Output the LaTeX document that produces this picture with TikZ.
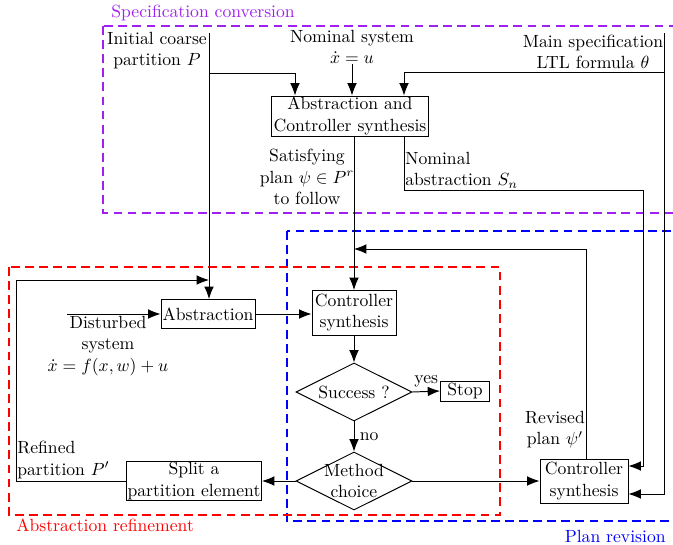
\documentclass[tikz,border=0pt]{standalone}
\usetikzlibrary{arrows.meta,shapes.geometric}
\definecolor{specpurple}{RGB}{160,32,240}
\begin{document}
\begin{tikzpicture}[x=0.567pt,y=-0.567pt,
  box/.style={draw,line width=0.55pt,align=center,inner sep=0pt},
  dia/.style={draw,line width=0.55pt,diamond,inner sep=0pt,minimum width=116*0.567pt,minimum height=58*0.567pt},
  arr/.style={line width=0.55pt,-{Latex[length=7pt,width=5.5pt]}},
  grp/.style={dash pattern=on 5pt off 3pt,line width=0.8pt},
  lbl/.style={align=center,inner sep=0pt}]
\useasboundingbox (0,0) rectangle (673,544);
\clip (0,0) rectangle (673,544);

% group frames
\draw[grp,specpurple] (103,26) rectangle (690,213);
\draw[grp,blue] (287,231) rectangle (690,521);
\draw[grp,red] (9,267) rectangle (500,515);
\node[lbl,anchor=west,text=specpurple] (gspec) at (111,13) {Specification conversion};
\node[lbl,anchor=west,text=red] (gref) at (16,525) {Abstraction refinement};
\node[lbl,anchor=east,text=blue] (gplan) at (666,536) {Plan revision};

% blocks
\node[box,minimum width=157*0.567pt,minimum height=40*0.567pt] (acs) at (350,116) {Abstraction and\\Controller synthesis};
\node[box,minimum width=94*0.567pt,minimum height=29*0.567pt] (abs) at (208,314) {Abstraction};
\node[box,minimum width=84*0.567pt,minimum height=45*0.567pt] (cs1) at (354,313) {Controller\\synthesis};
\node[dia,label={[lbl]center:Success ?}] (succ) at (354,392) {};
\node[box,minimum width=49*0.567pt,minimum height=20*0.567pt] (stop) at (465,391) {Stop};
\node[dia,label={[lbl]center:Method\\choice}] (meth) at (354,481) {};
\node[box,minimum width=135*0.567pt,minimum height=39*0.567pt] (split) at (194,481) {Split a\\partition element};
\node[box,minimum width=88*0.567pt,minimum height=44*0.567pt] (cs2) at (584,481) {Controller\\synthesis};

% texts
\node[lbl] (ipt) at (157,51) {Initial coarse\\partition $P$};
\node[lbl] (nomt) at (352,47) {Nominal system\\$\dot x = u$};
\node[lbl] (mst) at (593,52) {Main specification\\LTL formula $\theta$};
\node[lbl] (sat) at (307,177) {Satisfying\\plan $\psi \in P^r$\\to follow};
\node[lbl,align=left,anchor=west] (nab) at (405,170) {Nominal\\abstraction $S_n$};
\node[lbl] (dist) at (108,346) {Disturbed\\system\\$\dot x = f(x,w)+u$};
\node[lbl,align=left,anchor=west] (refp) at (17,460) {Refined\\partition $P'$};
\node[lbl] (rev) at (555,430) {Revised\\plan $\psi'$};

% coordinates
\coordinate (ipT) at (209,33);
\coordinate (msT) at (664,33);
\coordinate (nomS) at (352,64);
\coordinate (a1) at (295,73);
\coordinate (a2) at (404,72);
\coordinate (b1) at (404,190);
\coordinate (b2) at (643,190);
\coordinate (fb) at (209,280);
\coordinate (f1) at (16,280);
\coordinate (dS) at (67,314);
\coordinate (r1) at (586,249);
\path (cs2.east) ++(0,-15) coordinate (ce1) ++(0,28) coordinate (ce2);

% connectors
\draw[arr] (ipT) -- (ipT |- abs.north);
\draw[arr] (ipT |- a1) -- (a1) -- (a1 |- acs.north);
\draw[arr] (nomS) -- (nomS |- acs.north);
\draw[arr] (msT |- a2) -- (a2) -- (a2 |- acs.north);
\draw[arr] (msT) -- (msT |- ce2) -- (ce2);
\draw[arr] (b1 |- acs.south) -- (b1) -- (b2) -- (b2 |- ce1) -- (ce1);
\draw[arr] (acs.south -| cs1.north) -- (cs1.north);
\draw[arr] (dS) -- (abs.west);
\draw[arr] (abs.east) -- (abs.east -| cs1.west);
\draw[arr] (cs1.south) -- (succ.north);
\draw[arr] (succ.east) -- node[lbl,above=2pt] {yes} (stop.west);
\draw[arr] (succ.south) -- node[lbl,right=3pt] {no} (meth.north);
\draw[arr] (meth.west) -- (split.east);
\draw[arr] (meth.east) -- (cs2.west);
\draw[arr] (split.west) -| (f1) -- (fb);
\draw[arr] (r1 |- cs2.north) -- (r1) -- (r1 -| cs1.north);
\end{tikzpicture}
\end{document}
